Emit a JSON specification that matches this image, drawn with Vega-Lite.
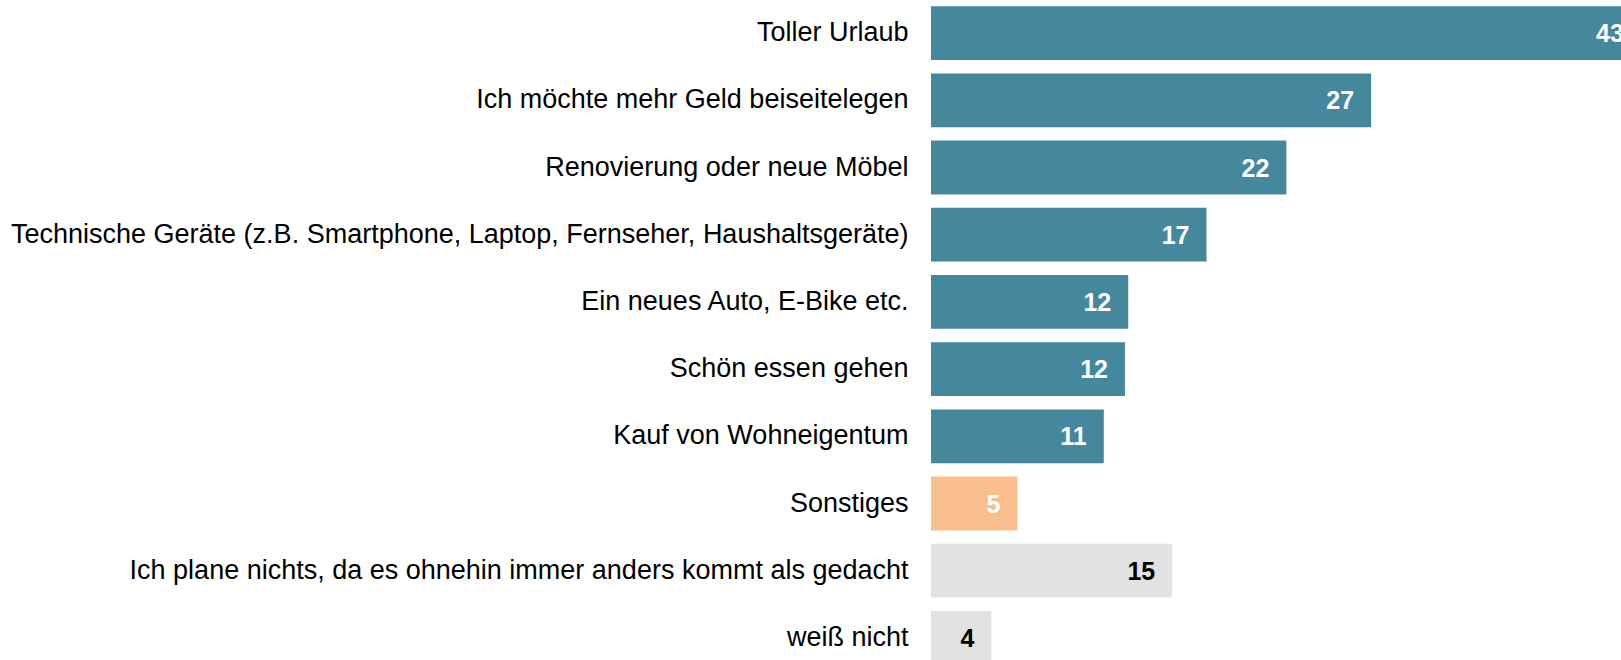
{
  "$schema": "https://vega.github.io/schema/vega-lite/v6.json",
  "width": 690,
  "height": 660,
  "autosize": "none",
  "padding": {"left": 931, "top": 0, "right": 0, "bottom": 0},
  "background": "white",
  "config": {"view": {"stroke": null}, "font": "Liberation Sans"},
  "data": {
    "values": [
      {"cat": "Toller Urlaub", "value": 43.55, "label": "43", "group": "main"},
      {"cat": "Ich möchte mehr Geld beiseitelegen", "value": 27.0, "label": "27", "group": "main"},
      {"cat": "Renovierung oder neue Möbel", "value": 21.8, "label": "22", "group": "main"},
      {"cat": "Technische Geräte (z.B. Smartphone, Laptop, Fernseher, Haushaltsgeräte)", "value": 16.9, "label": "17", "group": "main"},
      {"cat": "Ein neues Auto, E-Bike etc.", "value": 12.1, "label": "12", "group": "main"},
      {"cat": "Schön essen gehen", "value": 11.9, "label": "12", "group": "main"},
      {"cat": "Kauf von Wohneigentum", "value": 10.6, "label": "11", "group": "main"},
      {"cat": "Sonstiges", "value": 5.3, "label": "5", "group": "other"},
      {"cat": "Ich plane nichts, da es ohnehin immer anders kommt als gedacht", "value": 14.8, "label": "15", "group": "none"},
      {"cat": "weiß nicht", "value": 3.7, "label": "4", "group": "none"}
    ]
  },
  "encoding": {
    "y": {
      "field": "cat",
      "type": "nominal",
      "sort": null,
      "scale": {"range": [-0.5, 671.5], "paddingInner": 0.2, "paddingOuter": 0.1},
      "axis": {
        "title": null,
        "ticks": false,
        "domain": false,
        "labelFontSize": 27,
        "labelColor": "black",
        "labelPadding": 23,
        "labelLimit": 1200,
        "labelFont": "Liberation Sans"
      }
    },
    "x": {
      "field": "value",
      "type": "quantitative",
      "scale": {"domain": [0, 42.33], "nice": false, "zero": true},
      "axis": null
    }
  },
  "layer": [
    {
      "mark": {"type": "bar"},
      "encoding": {
        "color": {
          "field": "group",
          "type": "nominal",
          "scale": {"domain": ["main", "other", "none"], "range": ["#45879D", "#F8BF8C", "#E2E2E2"]},
          "legend": null
        }
      }
    },
    {
      "mark": {"type": "text", "align": "right", "baseline": "middle", "dx": -17, "dy": 1, "fontWeight": "bold", "fontSize": 25, "font": "Liberation Sans"},
      "encoding": {
        "text": {"field": "label", "type": "nominal"},
        "color": {"condition": {"test": "datum.group === 'none'", "value": "black"}, "value": "white"}
      }
    }
  ]
}
